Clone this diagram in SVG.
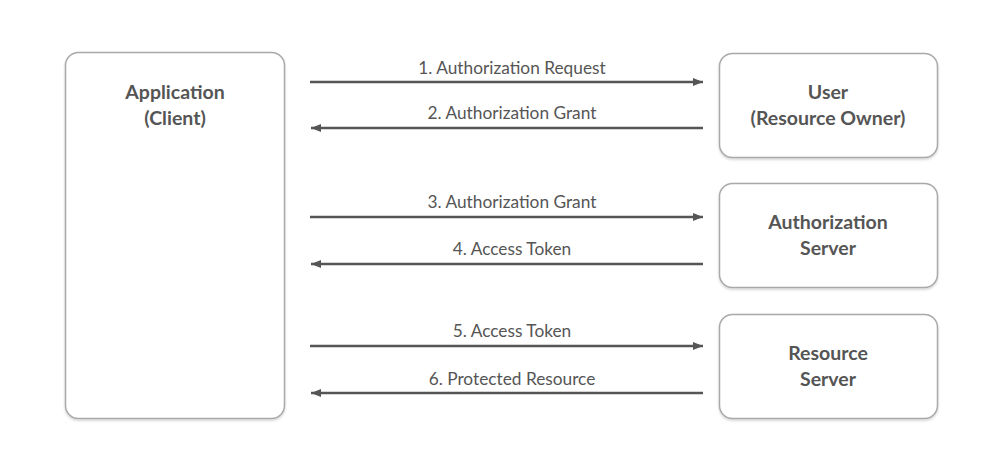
<svg xmlns="http://www.w3.org/2000/svg" width="1000" height="471" viewBox="0 0 1000 471">
<style>
.box{fill:#fff;stroke:#a9a9a9;stroke-width:1.5;filter:url(#sh)}
.title{font-family:Lato,"Noto Sans",sans-serif;font-weight:bold;font-size:19.5px;fill:#555;text-anchor:middle}
.lbl{font-family:Lato,"Noto Sans",sans-serif;font-size:17.3px;fill:#555;text-anchor:middle}
.ln{stroke:#555;stroke-width:2.5;fill:none}
</style>
<defs>
<filter id="sh" x="-10%" y="-10%" width="120%" height="120%">
<feDropShadow dx="0" dy="1.5" stdDeviation="1" flood-color="#000" flood-opacity="0.18"/>
</filter>
<marker id="ah" viewBox="0 0 10 8" refX="10" refY="4" markerWidth="10" markerHeight="8" markerUnits="userSpaceOnUse" orient="auto">
<path d="M0,0 L10,4 L0,8 Z" fill="#555"/>
</marker>
</defs>
<rect width="1000" height="471" fill="#fff"/>
<g id="client">
<rect class="box" x="65.5" y="52.5" width="219" height="366" rx="13"/>
<text class="title" x="175" y="98.5">Application</text>
<text class="title" x="175" y="124.5">(Client)</text>
</g>
<g id="user">
<rect class="box" x="719.5" y="53.5" width="218" height="104" rx="13"/>
<text class="title" x="828" y="98.5">User</text>
<text class="title" x="828" y="124.5">(Resource Owner)</text>
</g>
<g id="authserver">
<rect class="box" x="719.5" y="183.5" width="218" height="104" rx="13"/>
<text class="title" x="828" y="228.5">Authorization</text>
<text class="title" x="828" y="254.5">Server</text>
</g>
<g id="resserver">
<rect class="box" x="719.5" y="314.5" width="218" height="104" rx="13"/>
<text class="title" x="828" y="359.5">Resource</text>
<text class="title" x="828" y="385.5">Server</text>
</g>
<g id="connectors">
<line class="ln" x1="310" y1="82" x2="703" y2="82" marker-end="url(#ah)"/>
<line class="ln" x1="703" y1="128" x2="311" y2="128" marker-end="url(#ah)"/>
<line class="ln" x1="310" y1="217" x2="703" y2="217" marker-end="url(#ah)"/>
<line class="ln" x1="703" y1="264" x2="311" y2="264" marker-end="url(#ah)"/>
<line class="ln" x1="310" y1="346" x2="703" y2="346" marker-end="url(#ah)"/>
<line class="ln" x1="703" y1="393" x2="311" y2="393" marker-end="url(#ah)"/>
<text class="lbl" x="512" y="74">1. Authorization Request</text>
<text class="lbl" x="512" y="119">2. Authorization Grant</text>
<text class="lbl" x="512" y="208">3. Authorization Grant</text>
<text class="lbl" x="512" y="255">4. Access Token</text>
<text class="lbl" x="512" y="337">5. Access Token</text>
<text class="lbl" x="512" y="385">6. Protected Resource</text>
</g>
</svg>
